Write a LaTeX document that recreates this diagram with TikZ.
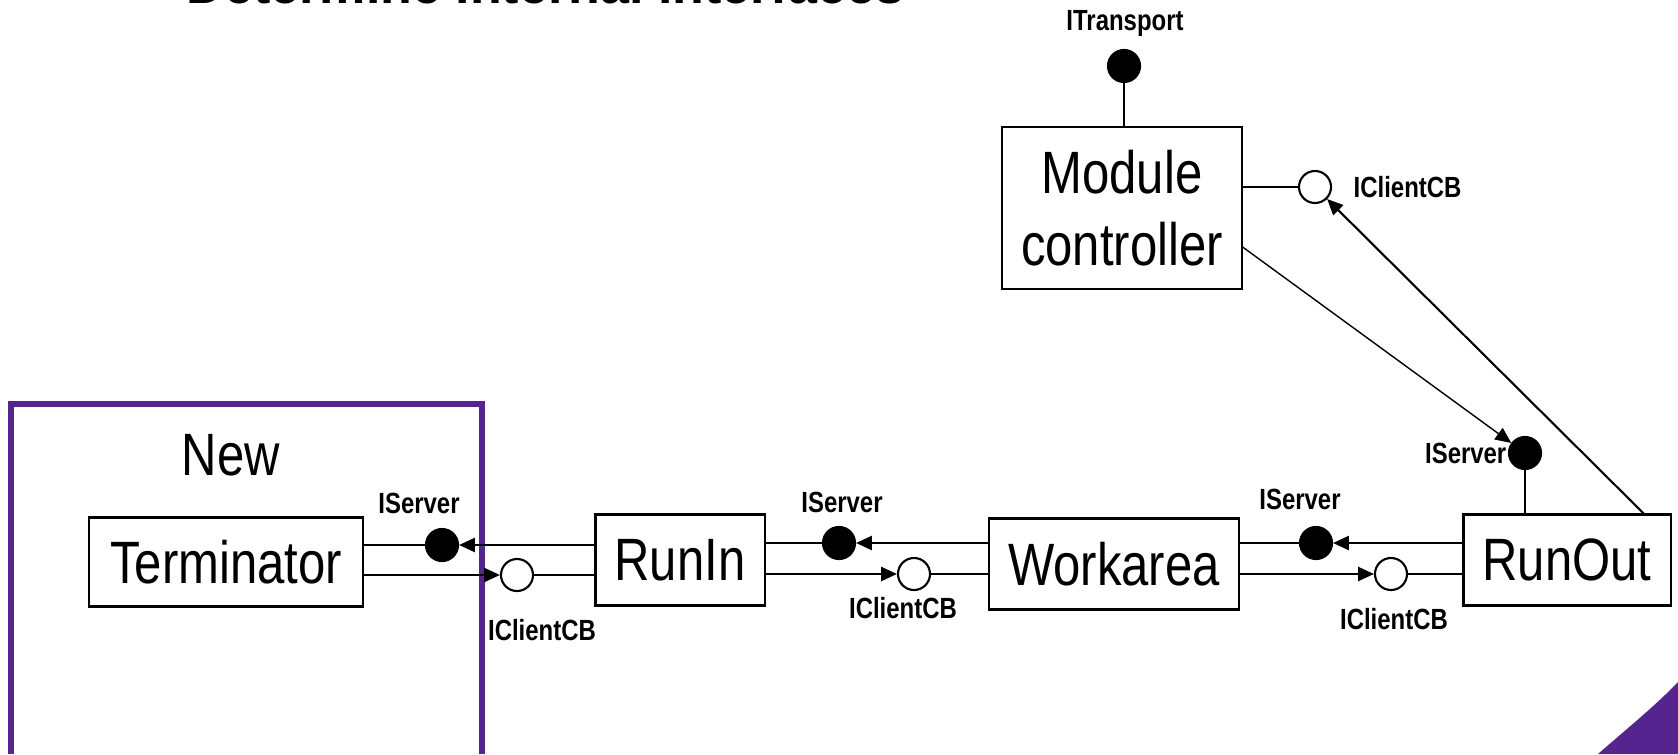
\documentclass[tikz,border=0pt]{standalone}
\usepackage{fontspec}
\setmainfont[FakeStretch=0.82]{Liberation Sans}
\newfontfamily\headfont{Liberation Sans}
\usetikzlibrary{arrows.meta}
\definecolor{unitpurple}{RGB}{86,36,142}

\begin{document}
\begin{tikzpicture}[x=0.01cm, y=-0.01cm,
  unit/.style={draw, line width=0.6pt, inner sep=0pt, align=center, font=\fontsize{17}{20.4}\selectfont},
  srv/.style={circle, draw, fill=black, line width=0.6pt, minimum size=0.32cm, inner sep=0pt},
  cb/.style={circle, draw, fill=white, line width=0.6pt, minimum size=0.32cm, inner sep=0pt},
  lbl/.style={font=\bfseries\fontsize{8.3}{10}\selectfont, inner sep=0pt},
  wire/.style={line width=0.6pt},
  call/.style={line width=0.6pt, -{Triangle[length=4.5pt,width=4pt]}}]
  \useasboundingbox (0,0) rectangle (1678,754);

  % Heading, mostly above the page
  \begin{scope}
    \clip (0,0) rectangle (1678,754);
    \node[anchor=base west, inner sep=0pt, font=\headfont\bfseries\fontsize{14.8}{18}\selectfont] (head) at (186,3) {Determine internal interfaces};
  \end{scope}

  % Frame of the new part
  \draw[unitpurple, line width=1.5pt] (11,754) -- (11,404) -- (482,404) -- (482,754);
  \node[font=\fontsize{17}{20.4}\selectfont] (new) at (231,455) {New};

  % Units
  \node[unit, minimum width=2.74cm, minimum height=0.89cm] (term) at (226,562) {Terminator};
  \node[unit, minimum width=1.69cm, minimum height=0.91cm] (runin) at (680,560) {RunIn};
  \node[unit, minimum width=2.49cm, minimum height=0.91cm] (work) at (1114,564) {Workarea};
  \node[unit, minimum width=2.07cm, minimum height=0.91cm] (runout) at (1567,560) {RunOut};
  \node[unit, minimum width=2.39cm, minimum height=1.62cm] (ctrl) at (1122,208) {Module\\controller};

  % Interface sockets
  \node[srv] (tsrv) at (442,545) {};
  \node[cb] (tcb) at (517,575) {};
  \node[srv] (rsrv) at (839,543) {};
  \node[cb] (rcb) at (914,574) {};
  \node[srv] (wsrv) at (1316,543) {};
  \node[cb] (wcb) at (1391,574) {};
  \node[srv] (osrv) at (1525,453) {};
  \node[srv] (msrv) at (1124,66) {};
  \node[cb] (mcb) at (1315,187) {};

  % Interface names
  \node[lbl] (tsrvname) at (419,503) {IServer};
  \node[lbl] (tcbname) at (542,630) {IClientCB};
  \node[lbl] (rsrvname) at (842,502) {IServer};
  \node[lbl] (rcbname) at (903,608) {IClientCB};
  \node[lbl] (wsrvname) at (1300,499) {IServer};
  \node[lbl] (wcbname) at (1394,619) {IClientCB};
  \node[lbl, anchor=east] (osrvname) at (1507,453) {IServer};
  \node[lbl] (msrvname) at (1125,23) {ITransport};
  \node[lbl, anchor=west] (mcbname) at (1353,187) {IClientCB};

  % Terminator <-> RunIn
  \draw[wire] (term.east |- tsrv) -- (tsrv);
  \draw[call] (runin.west |- tsrv) -- (tsrv);
  \draw[call] (term.east |- tcb) -- (tcb);
  \draw[wire] (tcb) -- (runin.west |- tcb);

  % RunIn <-> Workarea
  \draw[wire] (runin.east |- rsrv) -- (rsrv);
  \draw[call] (work.west |- rsrv) -- (rsrv);
  \draw[call] (runin.east |- rcb) -- (rcb);
  \draw[wire] (rcb) -- (work.west |- rcb);

  % Workarea <-> RunOut
  \draw[wire] (work.east |- wsrv) -- (wsrv);
  \draw[call] (runout.west |- wsrv) -- (wsrv);
  \draw[call] (work.east |- wcb) -- (wcb);
  \draw[wire] (wcb) -- (runout.west |- wcb);

  % Module controller <-> RunOut
  \draw[wire] (msrv) -- (msrv |- ctrl.north);
  \draw[wire] (ctrl.east |- mcb) -- (mcb);
  \draw[wire] (osrv) -- (osrv |- runout.north);
  \draw[call, line width=0.4pt] ([yshift=-0.39cm]ctrl.east) -- (osrv);
  \draw[call] ([xshift=-0.28cm]runout.north east) -- (mcb);

  % Corner swoosh
  \fill[unitpurple] (1598,754) .. controls (1630,726) and (1655,706) .. (1678,682) -- (1678,754) -- cycle;
\end{tikzpicture}
\end{document}
